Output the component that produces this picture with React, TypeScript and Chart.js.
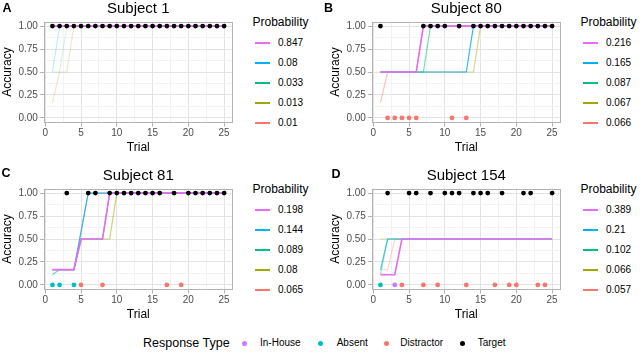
import React, { useEffect, useRef } from "react";
import { Chart, registerables } from "chart.js";

Chart.register(...registerables);

const FONT = "'Liberation Sans', Arial, Helvetica, sans-serif";
Chart.defaults.font.family = FONT;

// ---------- data ----------
const TRIALS = [1, 2, 3, 4, 5, 6, 7, 8, 9, 10, 11, 12, 13, 14, 15, 16, 17, 18, 19, 20, 21, 22, 23, 24, 25];
const X_TICKS = [0, 2.5, 5, 7.5, 10, 12.5, 15, 17.5, 20, 22.5, 25];
const Y_TICKS = [0, 0.125, 0.25, 0.375, 0.5, 0.625, 0.75, 0.875, 1];

const LINE_COLORS = ["#E76BF3", "#00B0F6", "#00BF7D", "#A3A500", "#F8766D"];
const RESPONSE_TYPES = ["In-House", "Absent", "Distractor", "Target"];
const RESPONSE_COLORS = ["#C77CFF", "#00BFC4", "#F8766D", "#000000"];

// Subject 1
const S1_PROB = ["0.847", "0.08", "0.033", "0.013", "0.01"];
const S1_P1 = [1, 1, 1, 1, 1, 1, 1, 1, 1, 1, 1, 1, 1, 1, 1, 1, 1, 1, 1, 1, 1, 1, 1, 1, 1];
const S1_P2 = [0.5, 1, 1, 1, 1, 1, 1, 1, 1, 1, 1, 1, 1, 1, 1, 1, 1, 1, 1, 1, 1, 1, 1, 1, 1];
const S1_P3 = [0.5, 0.5, 1, 1, 1, 1, 1, 1, 1, 1, 1, 1, 1, 1, 1, 1, 1, 1, 1, 1, 1, 1, 1, 1, 1];
const S1_P4 = [0.167, 0.5, 0.5, 1, 1, 1, 1, 1, 1, 1, 1, 1, 1, 1, 1, 1, 1, 1, 1, 1, 1, 1, 1, 1, 1];
const S1_P5 = [0.167, 0.5, 0.5, 1, 1, 1, 1, 1, 1, 1, 1, 1, 1, 1, 1, 1, 1, 1, 1, 1, 1, 1, 1, 1, 1];
const S1_INHOUSE: number[] = [];
const S1_ABSENT: number[] = [];
const S1_DISTRACTOR: number[] = [];
const S1_TARGET = [1, 2, 3, 4, 5, 6, 7, 8, 9, 10, 11, 12, 13, 14, 15, 16, 17, 18, 19, 20, 21, 22, 23, 24, 25];

// Subject 80
const S80_PROB = ["0.216", "0.165", "0.087", "0.067", "0.066"];
const S80_P1 = [0.5, 0.5, 0.5, 0.5, 0.5, 0.5, 1, 1, 1, 1, 1, 1, 1, 1, 1, 1, 1, 1, 1, 1, 1, 1, 1, 1, 1];
const S80_P2 = [0.5, 0.5, 0.5, 0.5, 0.5, 0.5, 0.5, 0.5, 0.5, 0.5, 0.5, 0.5, 0.5, 1, 1, 1, 1, 1, 1, 1, 1, 1, 1, 1, 1];
const S80_P3 = [0.5, 0.5, 0.5, 0.5, 0.5, 0.5, 0.5, 1, 1, 1, 1, 1, 1, 1, 1, 1, 1, 1, 1, 1, 1, 1, 1, 1, 1];
const S80_P4 = [0.5, 0.5, 0.5, 0.5, 0.5, 0.5, 0.5, 0.5, 0.5, 0.5, 0.5, 0.5, 0.5, 0.5, 1, 1, 1, 1, 1, 1, 1, 1, 1, 1, 1];
const S80_P5 = [0.167, 0.5, 0.5, 0.5, 0.5, 0.5, 1, 1, 1, 1, 1, 1, 1, 1, 1, 1, 1, 1, 1, 1, 1, 1, 1, 1, 1];
const S80_INHOUSE: number[] = [];
const S80_ABSENT: number[] = [];
const S80_DISTRACTOR = [2, 3, 4, 5, 6, 11, 13];
const S80_TARGET = [1, 7, 8, 9, 10, 12, 14, 15, 16, 17, 18, 19, 20, 21, 22, 23, 24, 25];

// Subject 81
const S81_PROB = ["0.198", "0.144", "0.089", "0.08", "0.065"];
const S81_P1 = [0.167, 0.167, 0.167, 0.167, 0.5, 0.5, 0.5, 0.5, 1, 1, 1, 1, 1, 1, 1, 1, 1, 1, 1, 1, 1, 1, 1, 1, 1];
const S81_P2 = [0.167, 0.167, 0.167, 0.167, 0.58, 1, 1, 1, 1, 1, 1, 1, 1, 1, 1, 1, 1, 1, 1, 1, 1, 1, 1, 1, 1];
const S81_P3 = [0.111, 0.167, 0.167, 0.167, 0.5, 0.5, 0.5, 0.5, 1, 1, 1, 1, 1, 1, 1, 1, 1, 1, 1, 1, 1, 1, 1, 1, 1];
const S81_P4 = [0.167, 0.167, 0.167, 0.167, 0.5, 0.5, 0.5, 0.5, 0.5, 1, 1, 1, 1, 1, 1, 1, 1, 1, 1, 1, 1, 1, 1, 1, 1];
const S81_P5 = [0.167, 0.167, 0.167, 0.167, 0.58, 1, 1, 1, 1, 1, 1, 1, 1, 1, 1, 1, 1, 1, 1, 1, 1, 1, 1, 1, 1];
const S81_INHOUSE: number[] = [];
const S81_ABSENT = [1, 2, 4];
const S81_DISTRACTOR = [5, 8, 17, 19];
const S81_TARGET = [3, 6, 7, 9, 10, 11, 12, 13, 14, 15, 16, 18, 20, 21, 22, 23, 24, 25];

// Subject 154
const S154_PROB = ["0.389", "0.21", "0.102", "0.066", "0.057"];
const S154_P1 = [0.111, 0.111, 0.111, 0.5, 0.5, 0.5, 0.5, 0.5, 0.5, 0.5, 0.5, 0.5, 0.5, 0.5, 0.5, 0.5, 0.5, 0.5, 0.5, 0.5, 0.5, 0.5, 0.5, 0.5, 0.5];
const S154_P2 = [0.167, 0.5, 0.5, 0.5, 0.5, 0.5, 0.5, 0.5, 0.5, 0.5, 0.5, 0.5, 0.5, 0.5, 0.5, 0.5, 0.5, 0.5, 0.5, 0.5, 0.5, 0.5, 0.5, 0.5, 0.5];
const S154_P3 = [0.111, 0.5, 0.5, 0.5, 0.5, 0.5, 0.5, 0.5, 0.5, 0.5, 0.5, 0.5, 0.5, 0.5, 0.5, 0.5, 0.5, 0.5, 0.5, 0.5, 0.5, 0.5, 0.5, 0.5, 0.5];
const S154_P4 = [0.5, 0.5, 0.5, 0.5, 0.5, 0.5, 0.5, 0.5, 0.5, 0.5, 0.5, 0.5, 0.5, 0.5, 0.5, 0.5, 0.5, 0.5, 0.5, 0.5, 0.5, 0.5, 0.5, 0.5, 0.5];
const S154_P5 = [0.167, 0.167, 0.5, 0.5, 0.5, 0.5, 0.5, 0.5, 0.5, 0.5, 0.5, 0.5, 0.5, 0.5, 0.5, 0.5, 0.5, 0.5, 0.5, 0.5, 0.5, 0.5, 0.5, 0.5, 0.5];
const S154_INHOUSE = [3];
const S154_ABSENT = [1];
const S154_DISTRACTOR = [4, 7, 9, 13, 17, 19, 20, 23, 24];
const S154_TARGET = [2, 5, 6, 8, 10, 11, 12, 14, 15, 16, 18, 21, 22, 25];

type PanelSpec = {
  letter: string;
  title: string;
  probs: string[];
  lines: number[][];
  responses: number[][];
};

const PANELS: PanelSpec[] = [
  { letter: "A", title: "Subject 1", probs: S1_PROB, lines: [S1_P1, S1_P2, S1_P3, S1_P4, S1_P5], responses: [S1_INHOUSE, S1_ABSENT, S1_DISTRACTOR, S1_TARGET] },
  { letter: "B", title: "Subject 80", probs: S80_PROB, lines: [S80_P1, S80_P2, S80_P3, S80_P4, S80_P5], responses: [S80_INHOUSE, S80_ABSENT, S80_DISTRACTOR, S80_TARGET] },
  { letter: "C", title: "Subject 81", probs: S81_PROB, lines: [S81_P1, S81_P2, S81_P3, S81_P4, S81_P5], responses: [S81_INHOUSE, S81_ABSENT, S81_DISTRACTOR, S81_TARGET] },
  { letter: "D", title: "Subject 154", probs: S154_PROB, lines: [S154_P1, S154_P2, S154_P3, S154_P4, S154_P5], responses: [S154_INHOUSE, S154_ABSENT, S154_DISTRACTOR, S154_TARGET] },
];

// ---------- layout (positions only) ----------
const LAYOUT = [
  { left: 0, top: 0, letterX: 2.5, letterY: 8.3 },
  { left: 328, top: 0, letterX: 324, letterY: 8.3 },
  { left: 0, top: 167, letterX: 1.5, letterY: 173.5 },
  { left: 328, top: 167, letterX: 331.5, letterY: 174 },
];
const CANVAS_W = 240;
const CANVAS_H = 160;

function rgba(hex: string, a: number) {
  const n = parseInt(hex.slice(1), 16);
  return `rgba(${(n >> 16) & 255},${(n >> 8) & 255},${n & 255},${a})`;
}
// alpha scaled by probability relative to the panel's most likely hypothesis
const alphaFor = (p: number, pmax: number) => Math.min(1, 0.1 + 0.9 * Math.pow(p / pmax, 0.8));

const isMajorX = (v: number) => Math.abs(v / 5 - Math.round(v / 5)) < 1e-6;
const isMajorY = (v: number) => Math.abs(v * 4 - Math.round(v * 4)) < 1e-6;

const panelBorder = {
  id: "panelBorder",
  beforeDatasetsDraw(chart: any) {
    const { ctx, chartArea } = chart;
    const { left, top, right, bottom } = chartArea;
    ctx.save();
    ctx.strokeStyle = "#B3B3B3";
    ctx.lineWidth = 1;
    ctx.strokeRect(Math.round(left) + 0.5, Math.round(top) + 0.5, Math.round(right - left) - 1, Math.round(bottom - top) - 1);
    ctx.restore();
  },
};

function buildConfig(spec: PanelSpec): any {
  const pmax = Math.max(...spec.probs.map(Number));
  const datasets: any[] = [];
  spec.responses.forEach((trials, i) => {
    datasets.push({
      label: RESPONSE_TYPES[i],
      data: trials.map((t) => ({ x: t, y: RESPONSE_TYPES[i] === "Target" ? 1 : 0 })),
      backgroundColor: RESPONSE_COLORS[i],
      borderColor: RESPONSE_COLORS[i],
      borderWidth: 0,
      pointRadius: 2.4,
      showLine: false,
      order: 0,
    });
  });
  spec.lines.forEach((vals, i) => {
    const a = alphaFor(Number(spec.probs[i]), pmax);
    datasets.push({
      label: spec.probs[i],
      data: vals.map((v, j) => ({ x: TRIALS[j], y: v })),
      borderColor: rgba(LINE_COLORS[i], a),
      backgroundColor: rgba(LINE_COLORS[i], a),
      borderWidth: i === 0 ? 1.6 : 1.2,
      pointRadius: 0,
      showLine: true,
      fill: false,
      tension: 0,
      order: 1 + i,
    });
  });

  return {
    type: "scatter",
    data: { datasets },
    plugins: [panelBorder],
    options: {
      responsive: false,
      animation: false,
      events: [],
      devicePixelRatio: 1,
      layout: { padding: { left: 0, right: 7.3, top: 0, bottom: 0 } },
      plugins: {
        legend: { display: false },
        tooltip: { enabled: false },
        title: {
          display: true,
          text: spec.title,
          fullSize: false,
          align: "center",
          color: "#000",
          font: { family: FONT, size: 15, weight: "normal", lineHeight: 1.2 },
          padding: { top: 0, bottom: 3.5 },
        },
      },
      scales: {
        x: {
          type: "linear",
          min: -0.2,
          max: 26.2,
          afterBuildTicks: (axis: any) => {
            axis.ticks = X_TICKS.map((v) => ({ value: v }));
          },
          border: { display: false },
          grid: {
            color: (c: any) => (c.tick && isMajorX(c.tick.value) ? "#E3E3E3" : "#F2F2F2"),
            lineWidth: 1,
            drawTicks: true,
            tickLength: 4,
            tickColor: (c: any) => (c.tick && isMajorX(c.tick.value) ? "#B3B3B3" : "rgba(0,0,0,0)"),
          },
          ticks: {
            autoSkip: false,
            maxRotation: 0,
            minRotation: 0,
            padding: 2,
            color: "#4D4D4D",
            font: { family: FONT, size: 10, lineHeight: 1 },
            callback: (v: number) => (isMajorX(v) ? String(Math.round(v)) : ""),
          },
          title: {
            display: true,
            text: "Trial",
            color: "#000",
            font: { family: FONT, size: 12, lineHeight: 1.2 },
            padding: { top: 0, bottom: 5.1 },
          },
        },
        y: {
          type: "linear",
          min: -0.05,
          max: 1.05,
          afterBuildTicks: (axis: any) => {
            axis.ticks = Y_TICKS.map((v) => ({ value: v }));
          },
          border: { display: false },
          grid: {
            color: (c: any) => (c.tick && isMajorY(c.tick.value) ? "#E3E3E3" : "#F2F2F2"),
            lineWidth: 1,
            drawTicks: true,
            tickLength: 4,
            tickColor: (c: any) => (c.tick && isMajorY(c.tick.value) ? "#B3B3B3" : "rgba(0,0,0,0)"),
          },
          ticks: {
            autoSkip: false,
            padding: 2,
            color: "#4D4D4D",
            font: { family: FONT, size: 10, lineHeight: 1 },
            callback: (v: number) => (isMajorY(v) ? v.toFixed(2) : ""),
          },
          title: {
            display: true,
            text: "Accuracy",
            color: "#000",
            font: { family: FONT, size: 12, lineHeight: 1.2 },
            padding: { top: 0, bottom: 2 },
          },
        },
      },
    },
  };
}

function Text(props: { x: number; cy: number; size: number; bold?: boolean; color?: string; children: React.ReactNode }) {
  const { x, cy, size, bold, color, children } = props;
  return (
    <div
      style={{
        position: "absolute",
        left: x,
        top: cy - 0.49 * size,
        fontSize: size,
        lineHeight: `${size}px`,
        fontWeight: bold ? "bold" : "normal",
        color: color || "#000",
        whiteSpace: "nowrap",
        fontFamily: FONT,
      }}
    >
      {children}
    </div>
  );
}

function Panel({ spec, layout }: { spec: PanelSpec; layout: (typeof LAYOUT)[number] }) {
  const ref = useRef<HTMLCanvasElement>(null);
  useEffect(() => {
    const chart = new Chart(ref.current as HTMLCanvasElement, buildConfig(spec));
    return () => chart.destroy();
  }, [spec]);
  const lx = layout.left + 253;
  const ly = layout.top;
  return (
    <>
      <canvas
        ref={ref}
        width={CANVAS_W}
        height={CANVAS_H}
        style={{ position: "absolute", left: layout.left, top: layout.top, width: CANVAS_W, height: CANVAS_H }}
      />
      <Text x={layout.letterX} cy={layout.letterY} size={12.5} bold>
        {spec.letter}
      </Text>
      <Text x={lx - 0.5} cy={ly + 21.7} size={12}>
        Probability
      </Text>
      {spec.probs.map((p, i) => (
        <React.Fragment key={p + i}>
          <div
            style={{
              position: "absolute",
              left: lx + 2,
              top: Math.round(ly + 43.3 + i * 19.85 - 1),
              width: 15,
              height: 2,
              background: LINE_COLORS[i],
            }}
          />
          <Text x={lx + 25} cy={ly + 43.3 + i * 19.85} size={10}>
            {p}
          </Text>
        </React.Fragment>
      ))}
    </>
  );
}

const RESP_LEGEND_DOT_X = [244, 320, 386, 462];
const RESP_LEGEND_LABEL_X = [260, 336.7, 400.3, 477.7];

export default function App() {
  return (
    <div
      style={{
        position: "absolute",
        left: 0,
        top: 0,
        width: 640,
        height: 354,
        background: "#fff",
        overflow: "hidden",
        fontFamily: FONT,
      }}
    >
      {PANELS.map((spec, i) => (
        <Panel key={spec.letter} spec={spec} layout={LAYOUT[i]} />
      ))}
      <Text x={143} cy={343} size={12.5}>
        Response Type
      </Text>
      {RESPONSE_TYPES.map((r, i) => (
        <React.Fragment key={r}>
          <div
            style={{
              position: "absolute",
              left: RESP_LEGEND_DOT_X[i] - 2.5,
              top: 341,
              width: 5,
              height: 5,
              borderRadius: "50%",
              background: RESPONSE_COLORS[i],
            }}
          />
          <Text x={RESP_LEGEND_LABEL_X[i]} cy={343.2} size={10}>
            {r}
          </Text>
        </React.Fragment>
      ))}
    </div>
  );
}
